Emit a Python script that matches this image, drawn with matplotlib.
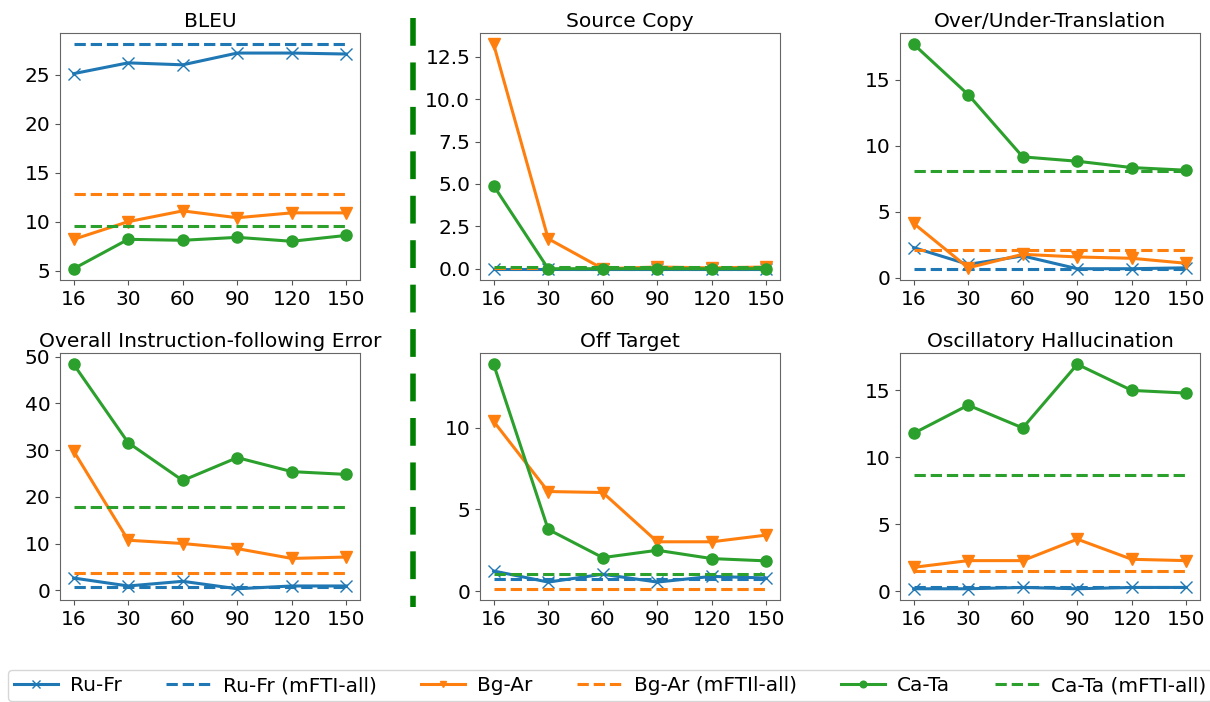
import matplotlib
matplotlib.use("Agg")
import matplotlib.pyplot as plt
from matplotlib.lines import Line2D

x_labels = ["16", "30", "60", "90", "120", "150"]
titles = ["BLEU", "Source Copy", "Over/Under-Translation",
          "Overall Instruction-following Error", "Off Target", "Oscillatory Hallucination"]

# Ru-Fr
rufr_bleu = [25.1, 26.2, 26.0, 27.2, 27.2, 27.1]
rufr_copy = [0.0, 0.0, 0.0, 0.0, 0.0, 0.0]
rufr_over = [2.29, 1.02, 1.66, 0.69, 0.69, 0.76]
rufr_overall = [2.6, 0.9, 1.9, 0.3, 0.9, 0.9]
rufr_off = [1.23, 0.55, 1.03, 0.55, 0.9, 0.8]
rufr_osc = [0.2, 0.2, 0.3, 0.2, 0.3, 0.3]
rufr_all = [28.1, 0.0, 0.69, 0.7, 0.76, 0.35]

# Bg-Ar
bgar_bleu = [8.2, 10.0, 11.1, 10.4, 10.9, 10.9]
bgar_copy = [13.24, 1.77, 0.0, 0.1, 0.05, 0.1]
bgar_over = [4.12, 0.76, 1.78, 1.58, 1.48, 1.10]
bgar_overall = [29.8, 10.7, 10.0, 8.9, 6.8, 7.1]
bgar_off = [10.4, 6.1, 6.04, 3.02, 3.02, 3.43]
bgar_osc = [1.8, 2.3, 2.3, 3.9, 2.4, 2.3]
bgar_all = [12.8, 0.05, 2.09, 3.7, 0.14, 1.5]

# Ca-Ta
cata_bleu = [5.2, 8.2, 8.1, 8.4, 8.0, 8.6]
cata_copy = [4.9, 0.0, 0.0, 0.0, 0.0, 0.0]
cata_over = [17.67, 13.86, 9.15, 8.82, 8.34, 8.14]
cata_overall = [48.4, 31.6, 23.5, 28.4, 25.4, 24.8]
cata_off = [13.9, 3.78, 2.05, 2.5, 1.99, 1.85]
cata_osc = [11.8, 13.9, 12.2, 16.95, 15.0, 14.8]
cata_all = [9.6, 0.1, 8.06, 17.9, 1.03, 8.7]

series = [
    ("Ru-Fr", "#1f77b4", "x", [rufr_bleu, rufr_copy, rufr_over, rufr_overall, rufr_off, rufr_osc], rufr_all, "Ru-Fr (mFTI-all)"),
    ("Bg-Ar", "#ff7f0e", "v", [bgar_bleu, bgar_copy, bgar_over, bgar_overall, bgar_off, bgar_osc], bgar_all, "Bg-Ar (mFTIl-all)"),
    ("Ca-Ta", "#2ca02c", "o", [cata_bleu, cata_copy, cata_over, cata_overall, cata_off, cata_osc], cata_all, "Ca-Ta (mFTI-all)"),
]

plt.rcParams['font.family'] = ['DejaVu Sans']
W, H = 1210, 702
fig = plt.figure(figsize=(W / 100, H / 100), dpi=100)
fig.subplots_adjust(left=60 / W, right=1200 / W, top=1 - 33 / H, bottom=1 - 600 / H,
                    wspace=0.4, hspace=0.296)
axes = fig.subplots(2, 3)
xs = list(range(len(x_labels)))

handles = []
labels = []
for k, ax in enumerate(axes.flat):
    for name, color, marker, vals, allv, allname in series:
        ms = 9 if marker == "x" else 8
        l1, = ax.plot(xs, vals[k], color=color, marker=marker, lw=2.2, ms=ms, label=name)
        l2, = ax.plot([xs[0], xs[-1]], [allv[k], allv[k]], color=color, ls="--", lw=2.2, label=allname)
        if k == 0:
            handles += [l1, l2]
            labels += [name, allname]
    ax.set_title(titles[k], fontsize=14.6, pad=4)
    ax.set_xticks(xs)
    ax.set_xticklabels(x_labels)
    ax.tick_params(labelsize=14.5, length=3.5, width=0.8, color="#555555")
    for sp in ax.spines.values():
        sp.set_color("#666666")

fig.add_artist(Line2D([413 / W, 413 / W], [1 - 18 / H, 1 - 607 / H], transform=fig.transFigure,
                      color="green", lw=4, ls=(0, (5, 3))))

fig.legend(handles, labels, loc="upper left", bbox_to_anchor=(8 / W, 1 - 670 / H),
           borderaxespad=0, ncol=6, fontsize=14.5, handlelength=2.2, handletextpad=0.6,
           columnspacing=2.2, borderpad=0.3, markerscale=0.6, frameon=True)

fig.savefig("out.png", dpi=100)
